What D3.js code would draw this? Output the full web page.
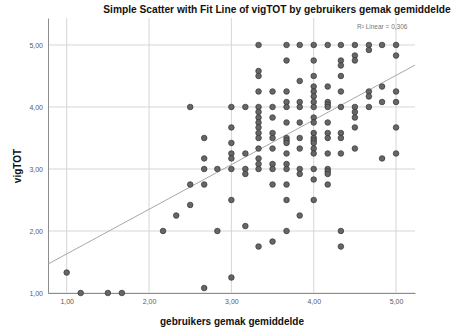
<!DOCTYPE html>
<html>
<head>
<meta charset="utf-8">
<script src="https://cdn.jsdelivr.net/npm/d3@7"></script>
<style>
  html, body { margin: 0; padding: 0; background: #fff; }
  svg { display: block; }
</style>
</head>
<body>
<svg id="chart" width="471" height="330"></svg>
<script>
// gebruikers gemak gemiddelde: the distinct score levels on the x axis
const gemakLevels = [1.00, 1.17, 1.50, 1.67, 2.17, 2.33, 2.50, 2.67, 2.83, 3.00,
                     3.17, 3.33, 3.50, 3.67, 3.83, 4.00, 4.17, 4.33, 4.50, 4.67,
                     4.83, 5.00];

// vigTOT scores of the respondents at each gemak level
const vigTotByLevel = [
  [1.33],
  [1.00],
  [1.00],
  [1.00],
  [2.00],
  [2.25],
  [4.00, 2.75, 2.42],
  [3.50, 3.17, 3.00, 2.75, 1.08],
  [3.00, 2.00],
  [4.00, 3.67, 3.42, 3.25, 3.17, 3.00, 2.50, 1.25],
  [4.00, 3.25, 3.00, 2.92, 2.08],
  [5.00, 4.58, 4.50, 4.25, 4.00, 3.92, 3.83, 3.75, 3.67, 3.58, 3.50, 3.33, 3.17, 3.08, 3.00, 1.75],
  [4.25, 4.00, 3.83, 3.58, 3.50, 3.33, 3.08, 3.00, 2.75, 1.83],
  [5.00, 4.75, 4.25, 4.08, 4.00, 3.75, 3.50, 3.46, 3.42, 3.25, 3.08, 3.00, 2.75, 2.50, 2.00],
  [5.00, 4.42, 4.08, 4.00, 3.75, 3.50, 3.33, 3.00, 2.92, 2.25],
  [5.00, 4.75, 4.50, 4.33, 4.25, 4.17, 4.08, 4.00, 3.83, 3.75, 3.58, 3.50, 3.46, 3.42, 3.33, 3.25, 3.00, 2.83, 2.50],
  [5.00, 4.33, 4.08, 4.04, 4.00, 3.75, 3.58, 3.50, 3.25, 3.00, 2.96, 2.92, 2.75],
  [5.00, 4.75, 4.67, 4.50, 4.25, 4.00, 3.58, 3.50, 3.25, 2.00, 1.75],
  [5.00, 4.83, 4.75, 4.00, 3.92, 3.83, 3.67, 3.33],
  [5.00, 4.92, 4.25, 4.17, 4.00],
  [5.00, 4.33, 4.08, 3.17],
  [5.00, 4.83, 4.25, 4.08, 3.67, 3.25]
];

const xTickValues = [1, 2, 3, 4, 5];
const yTickValues = [1, 2, 3, 4, 5];

// Linear fit line: vigTOT = intercept + slope * gemak
const fitIntercept = 0.91;
const fitSlope = 0.72;
const rSquaredLabel = "R\u00B2 Linear = 0,306";

const titleText = "Simple Scatter with Fit Line of vigTOT by gebruikers gemak gemiddelde";
const xAxisTitle = "gebruikers gemak gemiddelde";
const yAxisTitle = "vigTOT";

// Flatten into one record per respondent
const points = [];
gemakLevels.forEach((g, i) => {
  vigTotByLevel[i].forEach(v => points.push({ gemak: g, vig: v }));
});

const svg = d3.select("#chart");
const plot = { left: 48, right: 415, top: 18, bottom: 293 };

const x = d3.scaleLinear().domain([0.773, 5.23]).range([plot.left, plot.right]);
const y = d3.scaleLinear().domain([1, 5.435]).range([plot.bottom, plot.top]);

const nl = d3.formatLocale({ decimal: ",", thousands: ".", grouping: [3], currency: ["€", ""] });
const fmt = nl.format(".2f");

const fontFamily = "'Liberation Sans', Arial, sans-serif";

// Grid lines
svg.append("g").selectAll("line.vgrid")
  .data(xTickValues).join("line")
  .attr("x1", d => x(d)).attr("x2", d => x(d))
  .attr("y1", plot.top).attr("y2", plot.bottom)
  .attr("stroke", "#d6d6d6").attr("stroke-width", 1);

svg.append("g").selectAll("line.hgrid")
  .data(yTickValues).join("line")
  .attr("x1", plot.left).attr("x2", plot.right)
  .attr("y1", d => y(d)).attr("y2", d => y(d))
  .attr("stroke", "#d6d6d6").attr("stroke-width", 1);

// Axes
const xAxis = svg.append("g")
  .attr("transform", `translate(0,${plot.bottom})`)
  .call(d3.axisBottom(x).tickValues(xTickValues).tickFormat(fmt).tickSize(0).tickPadding(6));
const yAxis = svg.append("g")
  .attr("transform", `translate(${plot.left},0)`)
  .call(d3.axisLeft(y).tickValues(yTickValues).tickFormat(fmt).tickSize(0).tickPadding(5));

[xAxis, yAxis].forEach(a => {
  a.select(".domain").attr("stroke", "#8c8c8c").attr("stroke-width", 1);
  a.selectAll("text")
    .attr("fill", "#5a5a5a")
    .style("font-family", fontFamily)
    .style("font-size", "7px");
});

// Fit line across the full x range
const xDom = x.domain();
svg.append("line")
  .attr("x1", x(xDom[0])).attr("y1", y(fitIntercept + fitSlope * xDom[0]))
  .attr("x2", x(xDom[1])).attr("y2", y(fitIntercept + fitSlope * xDom[1]))
  .attr("stroke", "#a8a8a8").attr("stroke-width", 1);

// Scatter points
svg.append("g").selectAll("circle")
  .data(points).join("circle")
  .attr("cx", d => x(d.gemak))
  .attr("cy", d => y(d.vig))
  .attr("r", 2.8)
  .attr("fill", "#666666")
  .attr("stroke", "#333333")
  .attr("stroke-width", 0.7);

// Title
svg.append("text")
  .attr("x", 277).attr("y", 13)
  .attr("text-anchor", "middle")
  .style("font-family", fontFamily)
  .style("font-weight", "bold")
  .style("font-size", "10.2px")
  .attr("fill", "#111")
  .text(titleText);

// R squared annotation
svg.append("text")
  .attr("x", 357).attr("y", 29)
  .style("font-family", fontFamily)
  .style("font-size", "6.5px")
  .attr("fill", "#777")
  .text(rSquaredLabel);

// Axis titles
svg.append("text")
  .attr("x", 232).attr("y", 325)
  .attr("text-anchor", "middle")
  .style("font-family", fontFamily)
  .style("font-weight", "bold")
  .style("font-size", "10px")
  .attr("fill", "#111")
  .text(xAxisTitle);

svg.append("text")
  .attr("transform", "translate(21,166) rotate(-90)")
  .attr("text-anchor", "middle")
  .style("font-family", fontFamily)
  .style("font-weight", "bold")
  .style("font-size", "10px")
  .attr("fill", "#111")
  .text(yAxisTitle);
</script>
</body>
</html>
